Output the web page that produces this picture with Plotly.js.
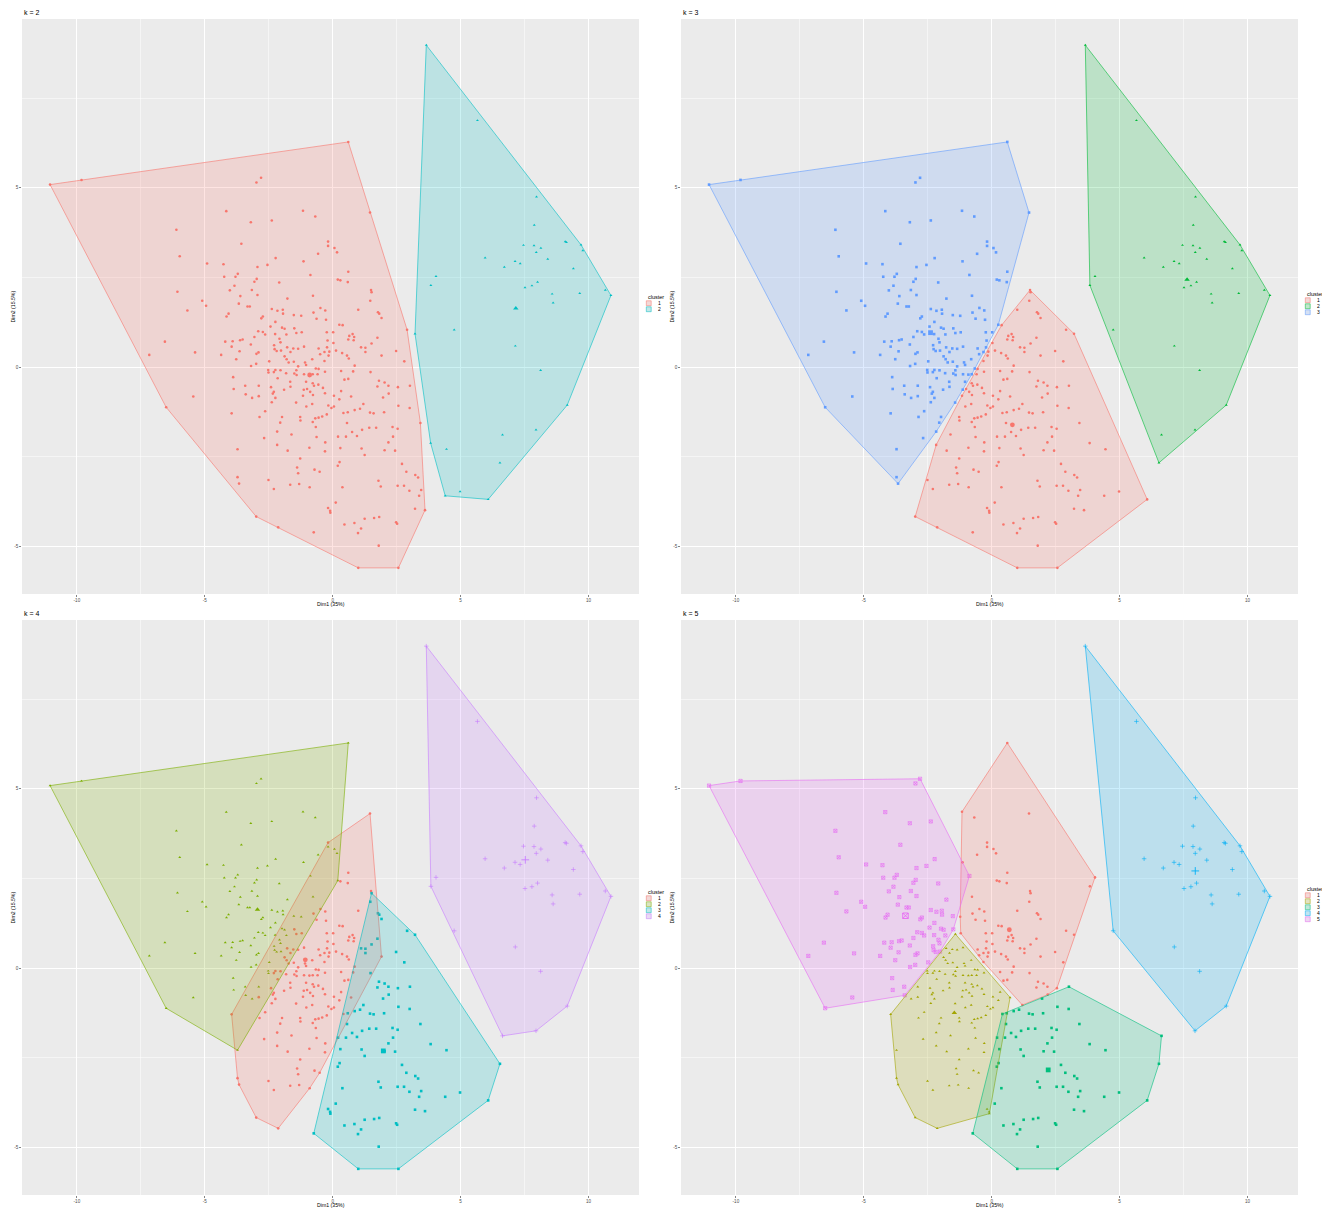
<!DOCTYPE html>
<html><head><meta charset="utf-8">
<script src="https://cdn.plot.ly/plotly-3.0.1.min.js"></script>
<style>html,body{margin:0;padding:0;background:#fff}#chart{width:1322px;height:1208px}</style>
</head><body><div id="chart"></div>
<script>
// ---- data (Dim1, Dim2 scores) ----
const dim1 = [
-11.05,-9.82,-2.80,-2.98,-4.16,-1.16,-0.68,-3.20,-2.38,-6.11,
-3.57,-0.18,-0.18,0.07,0.17,-0.57,-5.98,-2.23,-1.14,-4.91,
-4.27,-2.55,-2.94,-3.71,-3.80,-4.24,-2.97,-3.06,-2.09,-0.87,
0.20,-3.84,-4.02,-3.16,-6.07,-3.61,-2.94,-1.77,-0.77,0.61,
1.46,0.61,0.30,0.59,1.50,1.52,1.47,1.00,1.77,1.82,
1.91,0.26,0.39,2.91,0.78,0.65,0.84,0.82,0.61,1.75,
1.52,1.11,1.28,1.28,0.37,0.56,0.63,1.91,2.48,2.80,
0.86,0.33,0.80,1.48,0.46,0.61,1.81,2.03,1.75,2.18,
2.55,3.02,0.33,0.72,2.19,1.97,2.57,1.20,1.07,0.86,
3.01,0.26,0.59,0.42,1.46,1.60,2.01,3.43,0.56,1.43,
1.70,0.76,2.34,2.54,1.15,0.52,0.95,2.36,2.18,1.13,
0.30,2.03,2.44,1.25,0.27,2.71,2.88,3.23,3.34,1.79,
0.38,1.88,2.54,2.79,3.46,3.00,3.38,3.61,3.22,1.62,
1.82,1.25,0.46,0.85,2.48,2.52,1.11,0.99,1.80,1.00,2.57,
-5.10,-4.95,-5.68,-3.67,-3.33,-3.24,-4.07,-4.15,-2.38,-2.16,-1.95,
-2.73,-2.79,-1.94,-1.52,-1.23,-0.75,-0.48,-0.29,-0.63,-0.26,
-2.24,-2.43,-1.98,-1.88,-1.50,-2.91,-2.73,-2.64,-3.06,-2.25,
-1.81,-1.42,-1.21,-0.23,0.02,-2.08,-2.04,-0.20,0.03,-6.56,
-4.20,-3.91,-3.95,-3.62,-3.52,-3.20,-2.29,-2.27,-2.19,-2.02,
-1.78,-1.54,-1.35,-1.12,-1.65,-0.55,-0.22,-0.49,-0.32,-0.16,
-0.13,0.13,-7.17,-5.38,-4.36,-3.64,-2.98,-2.90,-3.77,-1.88,
-1.80,-1.72,-1.52,-2.48,-1.08,-1.04,-0.80,-0.32,-1.35,-3.19,
-2.99,-2.52,-2.51,-2.24,-2.30,-2.04,-1.82,-1.42,-1.50,-1.41,
-1.12,-0.91,-0.78,-0.66,-0.55,-0.30,-0.59,-2.15,-3.89,-1.04,
-1.66,-0.78,-0.73,-0.56,-3.42,-2.89,-2.41,-1.65,-1.13,-1.00,
-0.38,-3.87,-2.30,-2.34,-1.90,-0.88,-0.30,-3.40,-5.45,-3.15,
-2.89,-2.24,-1.16,-0.77,0.05,-2.38,-1.43,-0.80,-1.03,-0.17,
-0.05,0.05,-6.51,-2.64,-3.95,-2.86,-1.98,-1.27,-1.26,-0.68,
-0.55,-0.41,-0.23,-0.78,-2.05,-0.66,-2.17,-1.61,-0.63,0.21,
-2.68,-0.29,-2.17,-0.91,-3.72,-1.76,-0.30,-1.27,-1.39,-1.35,
-0.71,-0.51,0.20,-3.72,-3.66,-2.51,-1.66,-1.31,-0.90,-2.30,
0.12,-0.18,-0.10,-0.09,-2.99,-2.13,-0.74,
3.66,5.66,7.97,7.88,9.09,9.14,9.71,9.78,7.46,7.87,
8.14,7.96,5.96,8.41,7.13,7.33,6.71,9.41,4.04,3.84,
7.52,7.79,8.01,8.58,9.66,10.66,10.88,8.62,3.22,4.75,
7.14,8.13,9.17,6.64,7.95,3.83,4.45,6.54,4.98,4.40,
6.08];
const dim2 = [
5.09,5.22,5.28,5.15,4.35,4.36,4.20,4.04,4.09,3.83,
3.44,3.50,3.38,3.32,3.20,3.16,3.09,3.04,2.95,2.89,
2.87,2.85,2.79,2.60,2.52,2.52,2.46,2.38,2.36,2.57,
2.44,2.27,2.14,2.15,2.10,1.98,2.01,1.91,1.99,6.28,
4.31,2.66,2.42,2.37,2.15,2.09,1.85,1.60,1.53,1.49,
1.37,1.18,1.17,1.04,0.92,0.87,0.84,0.75,0.77,0.82,
0.66,0.55,0.54,0.42,0.39,0.32,0.24,0.32,0.45,0.16,
0.04,-0.11,-0.12,-0.14,-0.35,-0.33,-0.38,-0.43,-0.54,-0.52,
-0.56,-0.52,-0.67,-0.82,-0.74,-0.85,-1.08,-1.03,-1.16,-1.20,
-1.14,-0.90,-1.26,-1.28,-1.27,-1.29,-1.26,-1.56,-1.56,-1.69,
-1.69,-1.81,-1.67,-1.72,-1.75,-1.94,-1.92,-1.94,-2.10,-2.27,
-2.26,-2.32,-2.33,-2.45,-2.65,-2.70,-2.92,-3.01,-3.08,-3.17,
-3.35,-3.33,-3.31,-3.31,-3.43,-3.45,-3.59,-3.99,-3.95,-4.21,
-4.18,-4.23,-4.39,-4.35,-4.33,-4.37,-4.50,-4.63,-4.98,-5.60,-5.60,
1.85,1.71,1.58,1.77,1.69,1.69,1.49,1.41,1.62,1.57,1.60,
1.41,1.36,1.49,1.45,1.43,1.52,1.65,1.58,1.35,1.32,
1.26,1.13,1.10,1.07,1.08,1.00,0.98,0.91,0.84,0.92,
0.91,0.95,0.97,0.97,0.97,0.79,0.69,0.74,0.67,0.71,
0.71,0.72,0.57,0.75,0.77,0.63,0.61,0.50,0.45,0.46,
0.55,0.52,0.51,0.57,0.42,0.52,0.55,0.36,0.42,0.32,
0.43,0.46,0.34,0.41,0.34,0.44,0.37,0.41,0.22,0.30,
0.22,0.13,0.15,0.16,0.13,0.06,0.22,0.17,0.02,0.03,
0.09,-0.08,-0.15,-0.08,-0.14,-0.09,-0.17,-0.09,-0.18,-0.22,
-0.20,-0.21,-0.20,-0.04,-0.05,-0.13,-0.20,-0.31,-0.28,-0.41,
-0.41,-0.45,-0.52,-0.49,-0.52,-0.52,-0.56,-0.55,-0.63,-0.61,
-0.58,-0.61,-0.69,-0.74,-0.63,-0.69,-0.73,-0.76,-0.82,-0.86,
-0.81,-0.86,-0.80,-0.78,-0.80,-0.98,-0.99,-1.03,-1.10,-1.07,
-1.14,-1.10,-1.12,-1.23,-1.29,-1.39,-1.39,-1.39,-1.49,-1.43,
-1.41,-1.38,-1.32,-1.53,-1.55,-1.67,-1.80,-1.88,-1.95,-1.94,
-1.98,-2.10,-2.17,-2.25,-2.29,-2.33,-2.35,-2.55,-2.80,-2.96,
-2.86,-2.92,-2.75,-3.07,-3.25,-3.15,-3.28,-3.26,-3.35,-3.40,
-3.78,-3.93,-4.01,-4.06,-4.17,-4.47,-4.61,
8.98,6.88,4.75,3.96,3.50,3.48,3.41,3.25,3.40,3.39,
3.32,3.20,3.05,3.01,2.95,2.89,2.79,2.75,2.53,2.28,
2.22,2.27,2.37,2.04,2.06,2.15,2.00,1.79,0.93,1.04,
0.59,-0.09,-1.06,-1.89,-1.75,-2.12,-2.29,-2.67,-3.47,-3.59,
-3.69];

// ---- cluster membership of every point, one digit per point (same order as dim1/dim2) ----
const clusterK2Rows = [
'1111111111','1111111111','1111111111','1111111111','1111111111','1111111111','1111111111',
'1111111111','1111111111','1111111111','1111111111','1111111111','1111111111','11111111111',
'11111111111','1111111111','1111111111','1111111111','1111111111','1111111111','1111111111',
'1111111111','1111111111','1111111111','1111111111','1111111111','1111111111','1111111111',
'1111111111','1111111111','1111111111','1111111',
'2222222222','2222222222','2222222222','2222222222','2'];
const clusterK3Rows = [
'3333333333','3333333333','3333333333','3333333333','3333111111','1311111111','1111111111',
'1111111111','1111111111','1111111111','1111111111','1111111111','1111111111','11111111111',
'33333333333','3333333333','3333333333','3333333313','3333333333','3333333331','1133333333',
'3333333133','3333333333','3333111333','3111333331','1333311333','3311133111','1133333111',
'1111313111','3111311111','1113311111','1111111',
'2222222222','2222222222','22222222','1','222222','11','2','111'];
const clusterK4Rows = [
'2222222222','2122222222','2222222222','2222222222','1111133133','3113111113','3333111133',
'1113113333','3311333333','3131333333','3333333333','3333333333','3333333333','33333333333',
'22222222222','2222211111','2222122222','2111122112','2222222222','1111111111','1122222221',
'1112111112','2221111111','1111111121','1111221111','1211111222','1111111111','1121111111',
'1111111113','1111211111','1131111111','3333113',
'4444444444','4444444444','44444444','3','444444','333333'];
const clusterK5Rows = [
'5555511555','5111115515','5555555555','1555555511','1111111111','1111111111','1111111111',
'1111111111','1322133133','3233333333','3333333333','3333333333','3333333333','33333333333',
'55555555555','5555111111','5555555555','5211155115','5555555555','2222211111','1155555552',
'2225222125','5222222222','2222222252','2222522222','2522222552','2222222222','2252222222',
'2222222223','2222222222','2232222222','3222223',
'4444444444','44444444','11','44444444','1','4444','3','4','333333'];

// cluster centres
const centK2x = [-0.90, 7.16], centK2y = [-0.22, 1.64];
const centK3x = [0.81, 7.64, -2.39], centK3y = [-1.61, 2.44, 0.96];
const centK4x = [-1.07, -2.94, 1.98, 7.53], centK4y = [0.23, 1.63, -2.31, 3.02];
const centK5x = [0.69, -1.46, 2.21, 7.96, -3.37], centK5y = [1.07, -1.25, -2.84, 2.71, 1.46];

const panelTitles = ['k = 2', 'k = 3', 'k = 4', 'k = 5'];
const xTitle = 'Dim1 (35%)', yTitle = 'Dim2 (15.5%)', legendTitle = 'cluster';
const xTickVals = [-10, -5, 0, 5, 10], xTickText = ['-10', '-5', '0', '5', '10'];
const yTickVals = [-5, 0, 5], yTickText = ['-5', '0', '5'];
const xMinor = [-7.5, -2.5, 2.5, 7.5], yMinor = [-2.5, 2.5, 7.5];

// ---- styling ----
const palettes = [
  ['#F8766D', '#00BFC4'],
  ['#F8766D', '#00BA38', '#619CFF'],
  ['#F8766D', '#7CAE00', '#00BFC4', '#C77CFF'],
  ['#F8766D', '#A3A500', '#00BF7D', '#00B0F6', '#E76BF3']
];
const symbols = ['circle', 'triangle-up', 'square', 'cross-thin-open', 'square-x-open'];
const FONT = 'Liberation Sans, Arial, Helvetica, sans-serif';
const W = 1322, H = 1208;
const panelPx = [
  {x0: 22, x1: 639, y0: 19, y1: 594},
  {x0: 681, x1: 1298, y0: 19, y1: 594},
  {x0: 22, x1: 639, y0: 620, y1: 1195},
  {x0: 681, x1: 1298, y0: 620, y1: 1195}
];
function decode(rows) {
  const a = rows.join('').split('').map(Number);
  if (a.length !== dim1.length) console.warn('label length', a.length, dim1.length);
  return a;
}
const labelsAll = [decode(clusterK2Rows), decode(clusterK3Rows), decode(clusterK4Rows), decode(clusterK5Rows)];
const centres = [[centK2x, centK2y], [centK3x, centK3y], [centK4x, centK4y], [centK5x, centK5y]];

function rgba(hex, a) {
  const n = parseInt(hex.slice(1), 16);
  return 'rgba(' + (n >> 16) + ',' + ((n >> 8) & 255) + ',' + (n & 255) + ',' + a + ')';
}
function hull(pts) {
  pts = pts.slice().sort((a, b) => a[0] - b[0] || a[1] - b[1]);
  if (pts.length < 3) return pts;
  const cr = (o, a, b) => (a[0] - o[0]) * (b[1] - o[1]) - (a[1] - o[1]) * (b[0] - o[0]);
  const lo = [], up = [];
  for (const p of pts) { while (lo.length >= 2 && cr(lo[lo.length - 2], lo[lo.length - 1], p) <= 0) lo.pop(); lo.push(p); }
  for (let i = pts.length - 1; i >= 0; i--) { const p = pts[i]; while (up.length >= 2 && cr(up[up.length - 2], up[up.length - 1], p) <= 0) up.pop(); up.push(p); }
  lo.pop(); up.pop();
  return lo.concat(up);
}
function expand(arr) {
  const mn = Math.min(...arr), mx = Math.max(...arr), d = (mx - mn) * 0.05;
  return [mn - d, mx + d];
}
const xRange = expand(dim1), yRange = expand(dim2);

const traces = [], shapes = [], annotations = [];
const layout = {
  width: W, height: H, margin: {l: 0, r: 0, t: 0, b: 0},
  paper_bgcolor: '#ffffff', plot_bgcolor: 'rgba(0,0,0,0)', showlegend: false,
  font: {family: FONT, color: '#4D4D4D'}
};

panelPx.forEach((p, i) => {
  const n = i + 1, xa = 'x' + n, ya = 'y' + n;
  const axKey = n === 1 ? '' : String(n);
  const common = {
    ticks: 'outside', ticklen: 1.8, tickwidth: 0.6, tickcolor: '#333333',
    tickfont: {size: 4.6, color: '#4D4D4D', family: FONT},
    showgrid: true, gridcolor: '#FFFFFF', gridwidth: 1, zeroline: false, showline: false,
    fixedrange: true, tickmode: 'array'
  };
  layout['xaxis' + axKey] = Object.assign({}, common, {
    anchor: ya, domain: [p.x0 / W, p.x1 / W], range: xRange,
    tickvals: xTickVals, ticktext: xTickText,
    minor: {tickmode: 'array', tickvals: xMinor, showgrid: true, gridcolor: '#FFFFFF', gridwidth: 0.5, ticks: ''}
  });
  layout['yaxis' + axKey] = Object.assign({}, common, {
    anchor: xa, domain: [1 - p.y1 / H, 1 - p.y0 / H], range: yRange,
    tickvals: yTickVals, ticktext: yTickText,
    minor: {tickmode: 'array', tickvals: yMinor, showgrid: true, gridcolor: '#FFFFFF', gridwidth: 0.5, ticks: ''}
  });
  shapes.push({type: 'rect', xref: xa + ' domain', yref: ya + ' domain', x0: 0, x1: 1, y0: 0, y1: 1,
    fillcolor: '#EBEBEB', line: {width: 0}, layer: 'below'});

  const labs = labelsAll[i], pal = palettes[i], k = pal.length;
  const hullTraces = [];
  for (let c = 1; c <= k; c++) {
    const col = pal[c - 1], sym = symbols[c - 1];
    const xs = [], ys = [];
    labs.forEach((l, j) => { if (l === c) { xs.push(dim1[j]); ys.push(dim2[j]); } });
    const open = sym.indexOf('open') >= 0;
    traces.push({type: 'scatter', mode: 'markers', x: xs, y: ys, xaxis: xa, yaxis: ya, hoverinfo: 'skip',
      marker: {symbol: sym, size: open ? 3.2 : 2.6, color: col, line: {width: open ? 0.6 : 0, color: col}}});
    if (xs.length) {
      const h = hull(xs.map((v, j) => [v, ys[j]]));
      h.push(h[0]);
      hullTraces.push({type: 'scatter', mode: 'lines', x: h.map(q => q[0]), y: h.map(q => q[1]),
        xaxis: xa, yaxis: ya, fill: 'toself', fillcolor: rgba(col, 0.2),
        line: {color: col, width: 0.6}, hoverinfo: 'skip'});
    }
  }
  hullTraces.forEach(t => traces.push(t));
  const [cx, cy] = centres[i];
  for (let c = 1; c <= k; c++) {
    const col = pal[c - 1], sym = symbols[c - 1], open = sym.indexOf('open') >= 0;
    traces.push({type: 'scatter', mode: 'markers', x: [cx[c - 1]], y: [cy[c - 1]], xaxis: xa, yaxis: ya, hoverinfo: 'skip',
      marker: {symbol: sym, size: open ? 5.5 : 4.8, color: col, line: {width: open ? 0.9 : 0, color: col}}});
  }

  // panel title and axis titles
  annotations.push({xref: 'x5', yref: 'y5', x: p.x0, y: p.y0 - 7, text: panelTitles[i], showarrow: false,
    xanchor: 'left', yanchor: 'middle', font: {size: 7, color: '#000000', family: FONT}});
  annotations.push({xref: 'x5', yref: 'y5', x: (p.x0 + p.x1) / 2, y: p.y1 + 9.8, text: xTitle, showarrow: false,
    xanchor: 'center', yanchor: 'middle', font: {size: 5.2, color: '#000000', family: FONT}});
  annotations.push({xref: 'x5', yref: 'y5', x: p.x0 - 10, y: (p.y0 + p.y1) / 2, text: yTitle, showarrow: false,
    textangle: -90, xanchor: 'center', yanchor: 'middle', font: {size: 5.2, color: '#000000', family: FONT}});

  // legend
  const mid = (p.y0 + p.y1) / 2, pitch = 6, box = 5.5;
  const lx = p.x1 + 7, top = mid - k * pitch / 2;
  annotations.push({xref: 'x5', yref: 'y5', x: lx, y: top - 3.5, text: legendTitle, showarrow: false,
    xanchor: 'left', yanchor: 'middle', font: {size: 5.5, color: '#000000', family: FONT}});
  const kx = [], ky = [], kc = [], ks = [];
  for (let c = 1; c <= k; c++) {
    const col = pal[c - 1];
    const y0 = top + (c - 1) * pitch;
    shapes.push({type: 'rect', xref: 'x5', yref: 'y5', x0: lx, x1: lx + box, y0: y0, y1: y0 + box,
      fillcolor: '#F2F2F2', line: {width: 0}, layer: 'above'});
    shapes.push({type: 'rect', xref: 'x5', yref: 'y5', x0: lx + 0.3, x1: lx + box - 0.3, y0: y0 + 0.3, y1: y0 + box - 0.3,
      fillcolor: rgba(col, 0.2), line: {width: 0.5, color: col}, layer: 'above'});
    kx.push(lx + box / 2); ky.push(y0 + box / 2); kc.push(col); ks.push(symbols[c - 1]);
    annotations.push({xref: 'x5', yref: 'y5', x: lx + box + 4, y: y0 + box / 2, text: String(c), showarrow: false,
      xanchor: 'left', yanchor: 'middle', font: {size: 5, color: '#000000', family: FONT}});
  }
  traces.push({type: 'scatter', mode: 'markers', x: kx, y: ky, xaxis: 'x5', yaxis: 'y5', hoverinfo: 'skip',
    marker: {symbol: ks, size: 3, color: kc, line: {width: 0.6, color: kc}}});
});

layout.xaxis5 = {domain: [0, 1], range: [0, W], visible: false, fixedrange: true, anchor: 'y5'};
layout.yaxis5 = {domain: [0, 1], range: [H, 0], visible: false, fixedrange: true, anchor: 'x5'};
layout.shapes = shapes;
layout.annotations = annotations;

Plotly.newPlot('chart', traces, layout, {staticPlot: true, displayModeBar: false});
</script>
</body></html>
